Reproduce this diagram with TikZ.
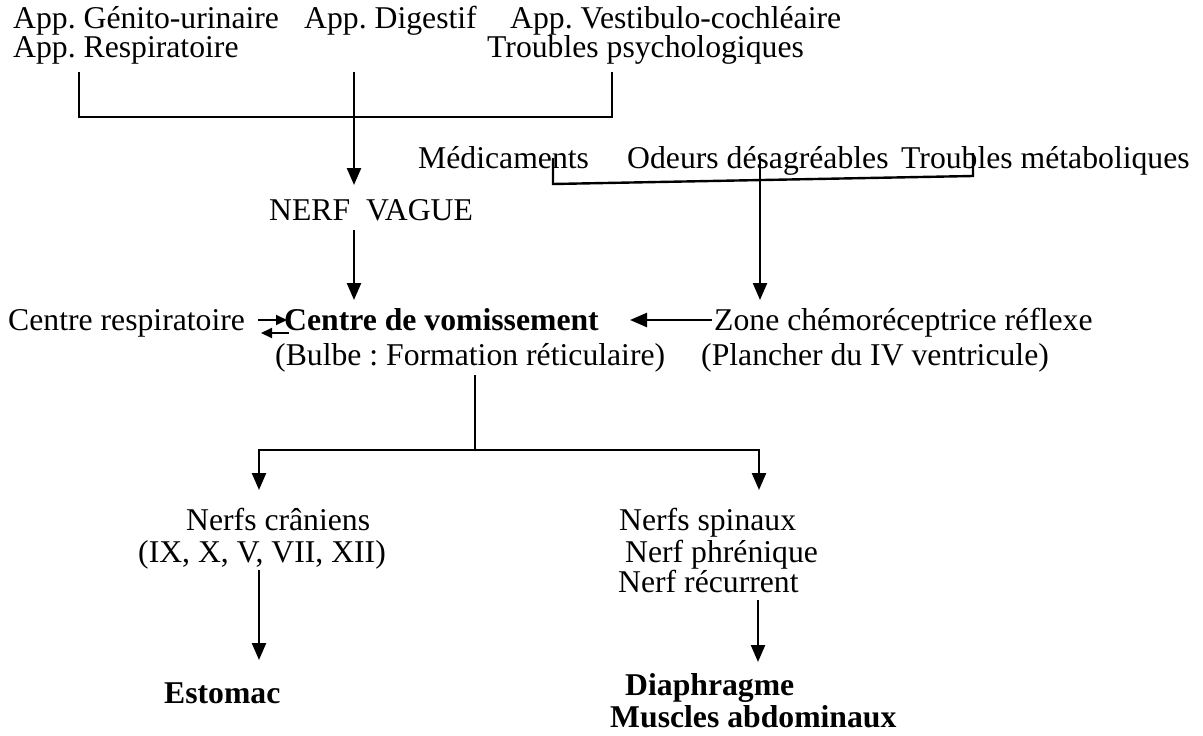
\documentclass[tikz,border=0pt]{standalone}
\usepackage{fontspec}
\setmainfont{Liberation Serif}
\usepackage{tikz}
\usetikzlibrary{arrows.meta}
\frenchspacing

\begin{document}
\begin{tikzpicture}[
		x=1pt, y=-1pt,
		every node/.style={inner sep=0pt, anchor=base west, font=\fontsize{31.7}{36}\selectfont},
		line/.style={line width=2.4pt},
		arr/.style={line width=2.4pt, -{Triangle[length=17pt, width=14pt]}},
		small_arr/.style={line width=2pt, -{Triangle[length=11pt, width=10pt]}}
	]
  \useasboundingbox (0,0) rectangle (1203,736);
  \node (app_gen) at (13, 28) {App. Génito-urinaire};
  \node (app_dig) at (304, 28) {App. Digestif};
  \node (app_vest) at (510, 28) {App. Vestibulo-cochléaire};
  \node (app_resp) at (13, 57) {App. Respiratoire};
  \node (tr_psy) at (487, 57) {Troubles psychologiques};
  \node (medic) at (418, 168) {Médicaments};
  \node (odeurs) at (627, 168) {Odeurs désagréables};
  \node (tr_met) at (901, 168) {Troubles métaboliques};
  \node (nerf_v) at (269, 220) {NERF\ \ VAGUE};
  \node (c_resp) at (8, 330) {Centre respiratoire};
  \node (c_vom) at (284, 330) {\bfseries Centre de vomissement};
  \node (zone) at (714, 330) {Zone chémoréceptrice réflexe};
  \node (bulbe) at (275, 365) {(Bulbe : Formation réticulaire)};
  \node (plancher) at (701, 365) {(Plancher du IV ventricule)};
  \node (n_cran) at (186, 530) {Nerfs crâniens};
  \node (n_list) at (138, 562) {(IX, X, V, VII, XII)};
  \node (n_spin) at (619, 530) {Nerfs spinaux};
  \node (n_phren) at (625, 562) {Nerf phrénique};
  \node (n_rec) at (618, 592) {Nerf récurrent};
  \node (estomac) at (164, 703) {\bfseries Estomac};
  \node (diaph) at (625, 695) {\bfseries Diaphragme};
  \node (muscles) at (610, 727) {\bfseries Muscles abdominaux};
  \coordinate (b_l) at (79, 72);
  \coordinate (b_c) at (354, 72);
  \coordinate (b_r) at (612, 72);
  \coordinate (b_y) at (0, 117);
  \coordinate (nv_top) at (354, 185);
  \coordinate (m_l) at (553, 158);
  \coordinate (m_c) at (760, 156);
  \coordinate (m_r) at (973, 153);
  \coordinate (m_jl) at (553, 184);
  \coordinate (m_jr) at (973, 176);
  \coordinate (z_top) at (760, 300);
  \coordinate (nv_bot) at (354, 230);
  \coordinate (cv_top) at (354, 300);
  \coordinate (v_top) at (475, 375);
  \coordinate (v_l) at (259, 450);
  \coordinate (v_r) at (759, 450);
  \coordinate (v_lt) at (259, 490);
  \coordinate (v_rt) at (759, 490);
  \coordinate (cr_a) at (258, 320);
  \coordinate (cr_b) at (287, 320);
  \coordinate (cr_c) at (289, 333);
  \coordinate (cr_d) at (261, 333);
  \coordinate (z_a) at (712, 320);
  \coordinate (z_b) at (630, 320);
  \coordinate (e_a) at (259, 570);
  \coordinate (e_b) at (259, 660);
  \coordinate (d_a) at (758, 600);
  \coordinate (d_b) at (758, 662);
  \draw[line] (b_l) -- (b_l |- b_y) -- (b_r |- b_y) -- (b_r);
  \draw[arr] (b_c) -- (nv_top);
  \draw[line] (m_l) -- (m_jl) -- (m_jr) -- (m_r);
  \draw[arr] (m_c) -- (z_top);
  \draw[arr] (nv_bot) -- (cv_top);
  \draw[small_arr] (cr_a) -- (cr_b);
  \draw[small_arr] (cr_c) -- (cr_d);
  \draw[arr] (z_a) -- (z_b);
  \draw[line] (v_top) -- (v_top |- v_l);
  \draw[arr] (v_r) -- (v_l) -- (v_lt);
  \draw[arr] (v_l) -- (v_r) -- (v_rt);
  \draw[arr] (e_a) -- (e_b);
  \draw[arr] (d_a) -- (d_b);
\end{tikzpicture}
\end{document}
